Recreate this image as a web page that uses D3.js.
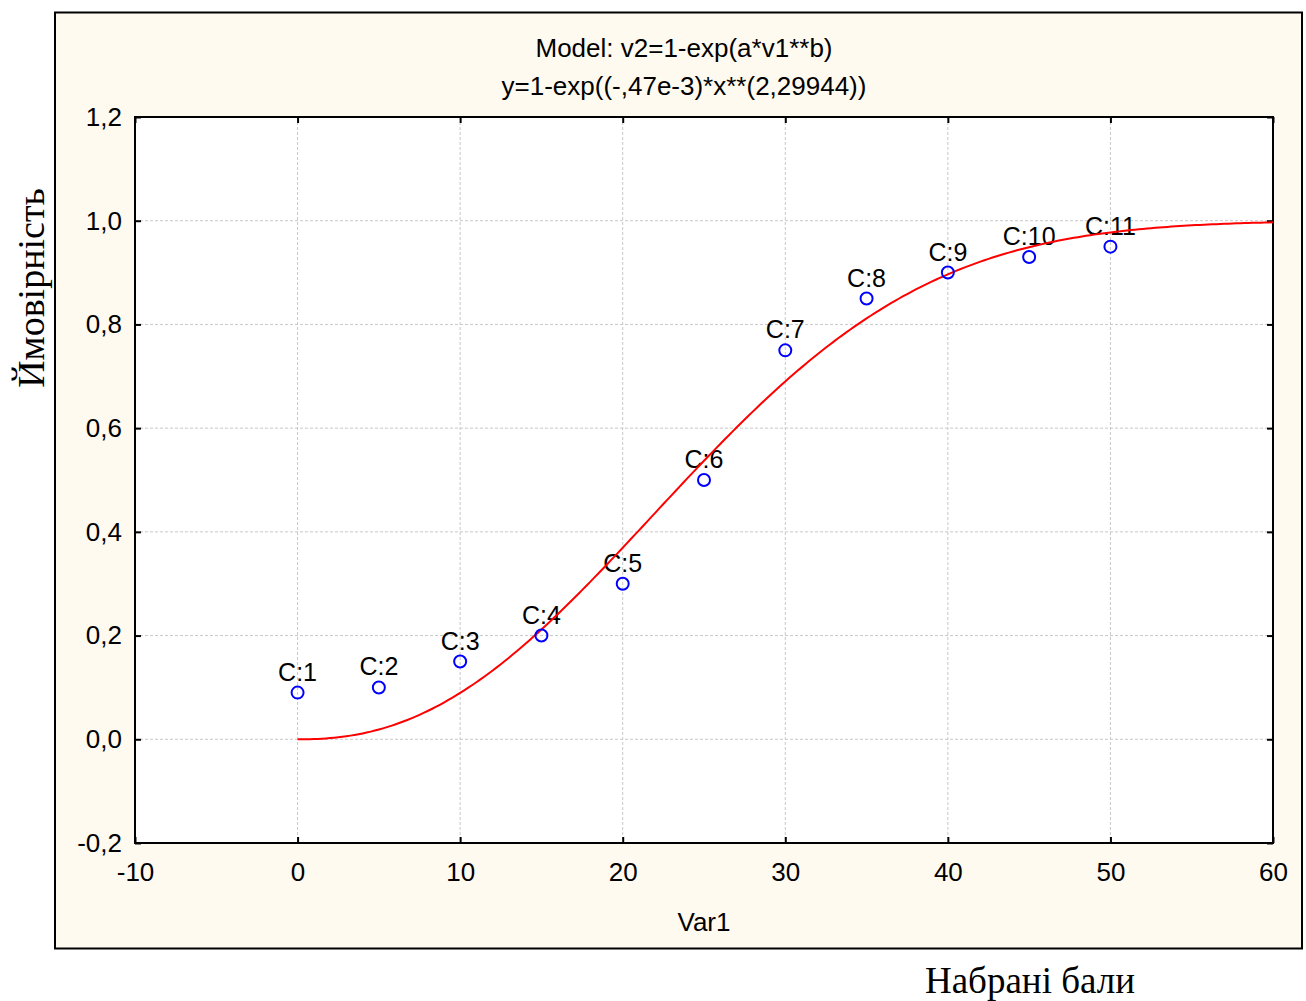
<!DOCTYPE html>
<html>
<head>
<meta charset="utf-8">
<script src="https://cdn.jsdelivr.net/npm/d3@7"></script>
<style>
    body { margin: 0; background: #ffffff; }
    svg text { font-family: "Liberation Sans", Arial, sans-serif; }
</style>
</head>
<body>
<div id="chart"></div>
<script>
// observed cases
const caseLabels = ["C:1", "C:2", "C:3", "C:4", "C:5", "C:6", "C:7", "C:8", "C:9", "C:10", "C:11"];
const xValues = [0, 5, 10, 15, 20, 25, 30, 35, 40, 45, 50];
const yValues = [0.09, 0.10, 0.15, 0.20, 0.30, 0.50, 0.75, 0.85, 0.90, 0.93, 0.95];

// fitted model parameters (from the chart title)
const modelA = -0.47e-3;
const modelB = 2.29944;

const xTicks = [-10, 0, 10, 20, 30, 40, 50, 60];
const yTicks = [-0.2, 0, 0.2, 0.4, 0.6, 0.8, 1.0, 1.2];

const titleLines = ["Model: v2=1-exp(a*v1**b)", "y=1-exp((-,47e-3)*x**(2,29944))"];

const width = 1306, height = 1001;
const margin = {top: 117, left: 135, right: 33, bottom: 158};
const innerW = width - margin.left - margin.right;
const innerH = height - margin.top - margin.bottom;

const svg = d3.select("#chart").append("svg")
    .attr("width", width)
    .attr("height", height);

// outer frame
svg.append("rect")
    .attr("x", 55).attr("y", 12.5)
    .attr("width", 1247).attr("height", 936)
    .attr("fill", "#fffaf0")
    .attr("stroke", "#000")
    .attr("stroke-width", 2);

const g = svg.append("g")
    .attr("transform", `translate(${margin.left},${margin.top})`);

const x = d3.scaleLinear().domain([-10, 60]).range([0, innerW]);
const y = d3.scaleLinear().domain([-0.2, 1.2]).range([innerH, 0]);

g.append("rect")
    .attr("width", innerW).attr("height", innerH)
    .attr("fill", "#fff");

// grid
g.append("g").selectAll("line").data(xTicks.slice(1, -1)).enter()
    .append("line")
    .attr("x1", d => x(d)).attr("x2", d => x(d))
    .attr("y1", 0).attr("y2", innerH)
    .attr("stroke", "#c8c8c8").attr("stroke-dasharray", "3,2");
g.append("g").selectAll("line").data(yTicks.slice(1, -1)).enter()
    .append("line")
    .attr("y1", d => y(d)).attr("y2", d => y(d))
    .attr("x1", 0).attr("x2", innerW)
    .attr("stroke", "#c8c8c8").attr("stroke-dasharray", "3,2");

const fmt = d => d3.format(".1f")(d).replace(".", ",").replace("−", "-");

// axes, ticks inside on all four sides
const axisStyle = sel => {
    sel.select(".domain").remove();
    sel.selectAll(".tick line").attr("stroke", "#000").attr("stroke-width", 2);
    sel.selectAll("text").style("font-size", "26px").attr("fill", "#000")
        .style("font-family", "'Liberation Sans', Arial, sans-serif");
};

g.append("g")
    .attr("transform", `translate(0,${innerH})`)
    .call(d3.axisBottom(x).tickValues(xTicks).tickSize(-6).tickPadding(20)
        .tickFormat(d => String(d)))
    .call(axisStyle);
g.append("g")
    .call(d3.axisTop(x).tickValues(xTicks).tickSize(-6).tickFormat(""))
    .call(axisStyle);
g.append("g")
    .call(d3.axisLeft(y).tickValues(yTicks).tickSize(-6).tickPadding(13).tickFormat(fmt))
    .call(axisStyle);
g.append("g")
    .attr("transform", `translate(${innerW},0)`)
    .call(d3.axisRight(y).tickValues(yTicks).tickSize(-6).tickFormat(""))
    .call(axisStyle);

g.append("rect")
    .attr("width", innerW).attr("height", innerH)
    .attr("fill", "none").attr("stroke", "#000").attr("stroke-width", 2);

// case labels
g.append("g").selectAll("text").data(xValues).enter()
    .append("text")
    .attr("x", (d, i) => x(d))
    .attr("y", (d, i) => y(yValues[i]) - 12)
    .attr("text-anchor", "middle")
    .style("font-size", "25px")
    .text((d, i) => caseLabels[i]);

// fitted curve
const curveX = d3.range(0, 60.01, 0.25);
const line = d3.line()
    .x(d => x(d))
    .y(d => y(1 - Math.exp(modelA * Math.pow(d, modelB))));
g.append("path")
    .datum(curveX)
    .attr("d", line)
    .attr("fill", "none")
    .attr("stroke", "#ff0000")
    .attr("stroke-width", 2);

// points
g.append("g").selectAll("circle").data(xValues).enter()
    .append("circle")
    .attr("cx", d => x(d))
    .attr("cy", (d, i) => y(yValues[i]))
    .attr("r", 6)
    .attr("fill", "none")
    .attr("stroke", "#0000ff")
    .attr("stroke-width", 2);

// titles
svg.selectAll(".title").data(titleLines).enter()
    .append("text")
    .attr("class", "title")
    .attr("x", 684)
    .attr("y", (d, i) => 57 + i * 38)
    .attr("text-anchor", "middle")
    .style("font-size", "26px")
    .text(d => d);

svg.append("text")
    .attr("x", margin.left + innerW / 2)
    .attr("y", 931)
    .attr("text-anchor", "middle")
    .style("font-size", "26px")
    .text("Var1");

// outer labels (serif)
svg.append("text")
    .attr("transform", "translate(44,288) rotate(-90)")
    .attr("text-anchor", "middle")
    .style("font-family", "'Liberation Serif', 'Times New Roman', serif")
    .style("font-size", "38px")
    .text("Ймовірність");

svg.append("text")
    .attr("x", 1030)
    .attr("y", 993)
    .attr("text-anchor", "middle")
    .style("font-family", "'Liberation Serif', 'Times New Roman', serif")
    .style("font-size", "37px")
    .text("Набрані бали");
</script>
</body>
</html>
